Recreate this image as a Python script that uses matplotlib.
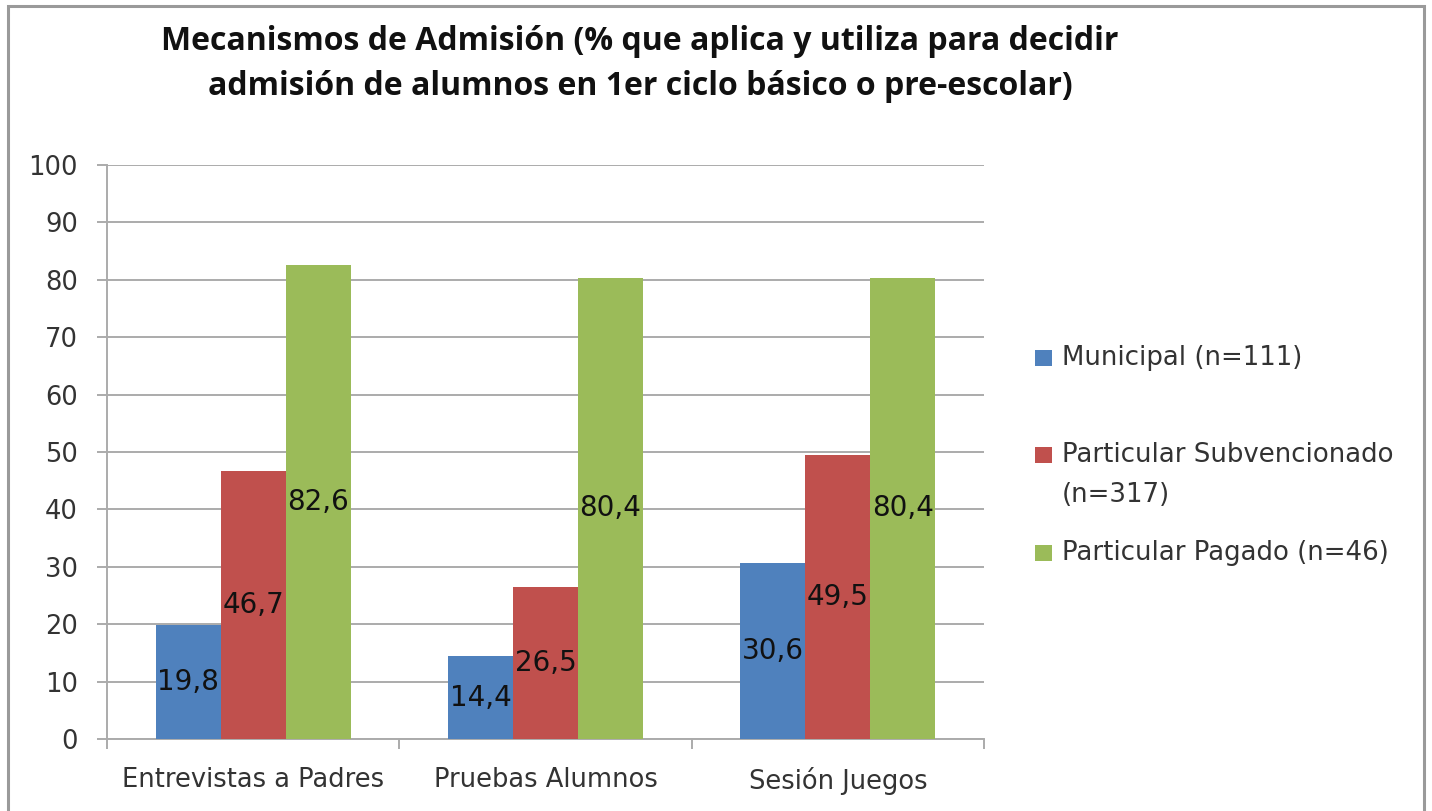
import matplotlib
matplotlib.use("Agg")
import matplotlib.pyplot as plt
from matplotlib.patches import Rectangle
import numpy as np

categories = ["Entrevistas a Padres", "Pruebas Alumnos", "Sesión Juegos"]
series_names = ["Municipal (n=111)", "Particular Subvencionado\n(n=317)", "Particular Pagado (n=46)"]
municipal = [19.8, 14.4, 30.6]
subvencionado = [46.7, 26.5, 49.5]
pagado = [82.6, 80.4, 80.4]
colors = ["#4F81BD", "#C0504D", "#9BBB59"]
yticks = [0, 10, 20, 30, 40, 50, 60, 70, 80, 90, 100]
title = "Mecanismos de Admisión (% que aplica y utiliza para decidir\nadmisión de alumnos en 1er ciclo básico o pre-escolar)"

plt.rcParams['font.family'] = ['DejaVu Sans']
TITLE_FONT = ['Open Sans', 'DejaVu Sans']

W, H = 1432, 811
fig = plt.figure(figsize=(W / 100, H / 100), dpi=100)
fig.patch.set_facecolor("white")

# chart-area border
fig.add_artist(Rectangle((8 / W, -0.02), (1424 - 8) / W, (H - 6) / H + 0.02,
                         transform=fig.transFigure, fill=False,
                         edgecolor="#9a9a9a", lw=2.2))

ax = fig.add_axes([107 / W, 1 - 739 / H, (984 - 107) / W, (739 - 165) / H])

x = np.arange(len(categories))
bw = 0.222
series = [municipal, subvencionado, pagado]
for i, (vals, c) in enumerate(zip(series, colors)):
    pos = x + (i - 1) * bw
    bars = ax.bar(pos, vals, width=bw, color=c, zorder=3, linewidth=0)
    for b, v in zip(bars, vals):
        ax.text(b.get_x() + b.get_width() / 2, v / 2, f"{v:.1f}".replace(".", ","),
                ha="center", va="center", fontsize=20, color="#111111", zorder=4)

ax.set_xlim(-0.5, len(categories) - 0.5)
ax.set_ylim(0, 100)
ax.set_yticks(yticks)
ax.set_yticklabels([str(t) for t in yticks])
ax.grid(axis="y", color="#ababab", lw=1.4, zorder=0)
ax.set_axisbelow(True)

ax.set_xticks(x)
ax.set_xticklabels(categories)
ax.set_xticks(np.arange(-0.5, len(categories)), minor=True)
ax.tick_params(axis="x", which="major", length=0, pad=20, labelsize=18.5, labelcolor="#333333")
ax.tick_params(axis="x", which="minor", length=7, width=1.4, color="#ababab", direction="out")
ax.tick_params(axis="y", length=7, width=1.4, color="#ababab", pad=14, labelsize=18.5, labelcolor="#333333")

for s in ["top", "right"]:
    ax.spines[s].set_visible(False)
for s in ["left", "bottom"]:
    ax.spines[s].set_color("#ababab")
    ax.spines[s].set_linewidth(1.4)

fig.text(640 / W, 1 - 64 / H, title, ha="center", va="center", fontsize=23,
         fontweight="bold", color="#111111", linespacing=1.5, family=TITLE_FONT)

# legend
leg_lines = [[(series_names[0], 358)],
             [(series_names[1].split("\n")[0], 455), (series_names[1].split("\n")[1], 495)],
             [(series_names[2], 553)]]
for lines, c in zip(leg_lines, colors):
    yc = lines[0][1]
    fig.add_artist(Rectangle((1035 / W, 1 - (yc + 8) / H), 17 / W, 16 / H,
                             transform=fig.transFigure, facecolor=c, edgecolor="none"))
    for txt, yy in lines:
        fig.text(1062 / W, 1 - yy / H, txt, ha="left", va="center",
                 fontsize=18.7, color="#333333")

fig.savefig("out.png", dpi=100)
